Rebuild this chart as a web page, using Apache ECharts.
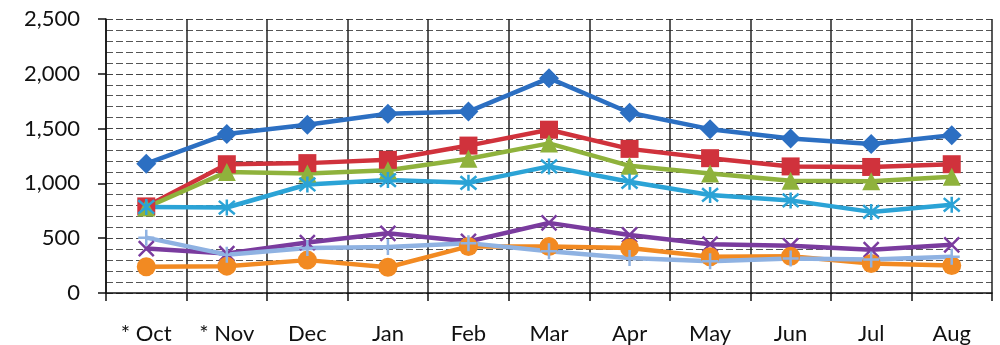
<!DOCTYPE html>
<html>
<head>
<meta charset="utf-8">
<script src="https://cdn.jsdelivr.net/npm/echarts@6/dist/echarts.min.js"></script>
<style>html,body{margin:0;padding:0;background:#fff;}#c{width:1000px;height:345px;}</style>
</head>
<body>
<div id="c"></div>
<script>
const categories = ['* Oct', '* Nov', 'Dec', 'Jan', 'Feb', 'Mar', 'Apr', 'May', 'Jun', 'Jul', 'Aug'];
const seriesBlue   = [1180, 1450, 1535, 1635, 1655, 1960, 1645, 1495, 1410, 1360, 1440];
const seriesRed    = [790, 1175, 1185, 1215, 1345, 1490, 1315, 1230, 1155, 1150, 1175];
const seriesGreen  = [780, 1105, 1090, 1120, 1225, 1365, 1160, 1090, 1025, 1020, 1060];
const seriesPurple = [405, 360, 460, 545, 470, 640, 530, 445, 430, 395, 440];
const seriesCyan   = [785, 780, 990, 1030, 1005, 1155, 1015, 895, 845, 740, 805];
const seriesOrange = [240, 245, 300, 235, 425, 425, 410, 330, 335, 270, 250];
const seriesLtBlue = [505, 350, 410, 420, 455, 380, 320, 290, 315, 305, 330];
const yTicks = [0, 500, 1000, 1500, 2000, 2500];

const symX = 'path://M0,0L20,20M20,0L0,20';
const symStar = 'path://M0,0L20,20M20,0L0,20M10,-2L10,22';
const symPlus = 'path://M10,0L10,20M0,10L20,10';

function mk(name, data, color, symbol, size, stroke) {
  return {
    name, type: 'line', data, symbol, symbolSize: size,
    lineStyle: { color, width: 4.5 },
    itemStyle: stroke ? { color, borderColor: color, borderWidth: 2.5 } : { color, borderColor: color, borderWidth: 0 },
    emphasis: { disabled: true },
    animation: false
  };
}

const chart = echarts.init(document.getElementById('c'));
chart.setOption({
  backgroundColor: '#fff',
  animation: false,
  grid: { left: 106, right: 8, top: 19, bottom: 52, containLabel: false },
  xAxis: {
    type: 'category', data: categories, boundaryGap: true,
    axisLine: { show: true, lineStyle: { color: '#111', width: 1.5 } },
    axisTick: { show: true, length: 8, lineStyle: { color: '#111', width: 1.5 } },
    axisLabel: { margin: 30, fontFamily: 'Lato', fontSize: 22, color: '#111' },
    splitLine: { show: true, lineStyle: { color: '#222', width: 1.5 } }
  },
  yAxis: {
    type: 'value', min: yTicks[0], max: yTicks[yTicks.length - 1], interval: 500,
    axisLine: { show: true, lineStyle: { color: '#111', width: 1.5 } },
    axisTick: { show: true, length: 8, lineStyle: { color: '#111', width: 1.5 } },
    axisLabel: { margin: 26, fontFamily: 'Lato', fontSize: 22, color: '#111',
      formatter: v => v.toLocaleString('en-US') },
    splitLine: { show: true, lineStyle: { color: '#444', width: 1, type: [7, 3] } },
    minorTick: { show: false, splitNumber: 5 },
    minorSplitLine: { show: true, lineStyle: { color: '#555', width: 1, type: [7, 3] } }
  },
  series: [
    mk('S1', seriesBlue, '#2c6fc2', 'diamond', 20, false),
    mk('S2', seriesRed, '#d0323c', 'rect', 18, false),
    mk('S3', seriesGreen, '#8fb23c', 'triangle', 18, false),
    mk('S4', seriesPurple, '#7a3b9e', symX, 15, true),
    mk('S5', seriesCyan, '#2ba3d6', symStar, 16, true),
    mk('S6', seriesOrange, '#f28a22', 'circle', 19, false),
    mk('S7', seriesLtBlue, '#8fb2e2', symPlus, 16, true)
  ]
});
</script>
</body>
</html>
